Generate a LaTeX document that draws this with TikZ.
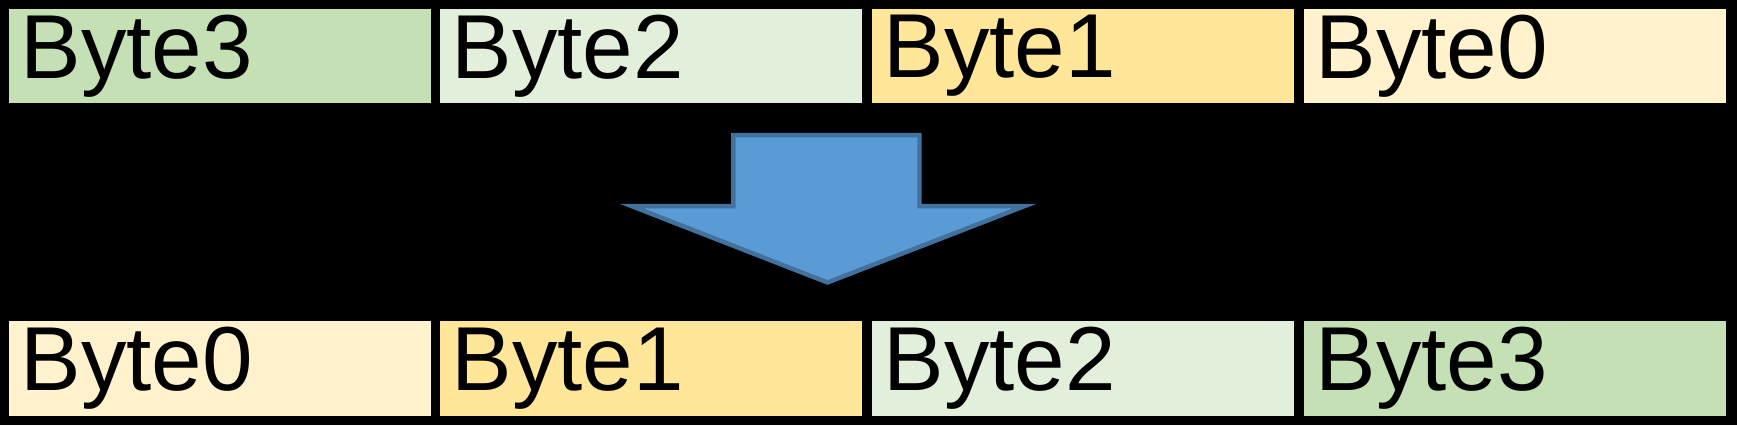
\documentclass[tikz,border=0pt]{standalone}
\usepackage{fontspec}
\setmainfont{Liberation Sans}
\definecolor{cA}{HTML}{C5E0B4}
\definecolor{cB}{HTML}{E2EFDA}
\definecolor{cC}{HTML}{FFE699}
\definecolor{cD}{HTML}{FFF2CC}
\definecolor{af}{HTML}{5B9BD5}
\definecolor{ab}{HTML}{41719C}
\begin{document}
\begin{tikzpicture}[x=1pt,y=-1pt,
  cell/.style={anchor=north west,minimum width=381pt,minimum height=85pt,inner sep=0pt,
    text width=360pt,align=left,font=\fontsize{82}{82}\selectfont}]
\useasboundingbox (0,0) rectangle (1568,384);
\fill[black] (0,0) rectangle (1568,384);
\node[cell,fill=cA] (t3) at (8,8) {Byte3};
\node[cell,fill=cB] (t2) at (397,8) {Byte2};
\node[cell,fill=cC] (t1) at (787,8) {Byte1};
\node[cell,fill=cD] (t0) at (1177,8) {Byte0};
\node[cell,fill=cD] (b0) at (8,290) {Byte0};
\node[cell,fill=cC] (b1) at (397,290) {Byte1};
\node[cell,fill=cB] (b2) at (787,290) {Byte2};
\node[cell,fill=cA] (b3) at (1177,290) {Byte3};
\draw[fill=af,draw=ab,line width=4pt,line join=miter] (662,122) -- (830,122) -- (830,186) -- (925,186) -- (747,255) -- (570,186) -- (662,186) -- cycle;
\end{tikzpicture}
\end{document}
